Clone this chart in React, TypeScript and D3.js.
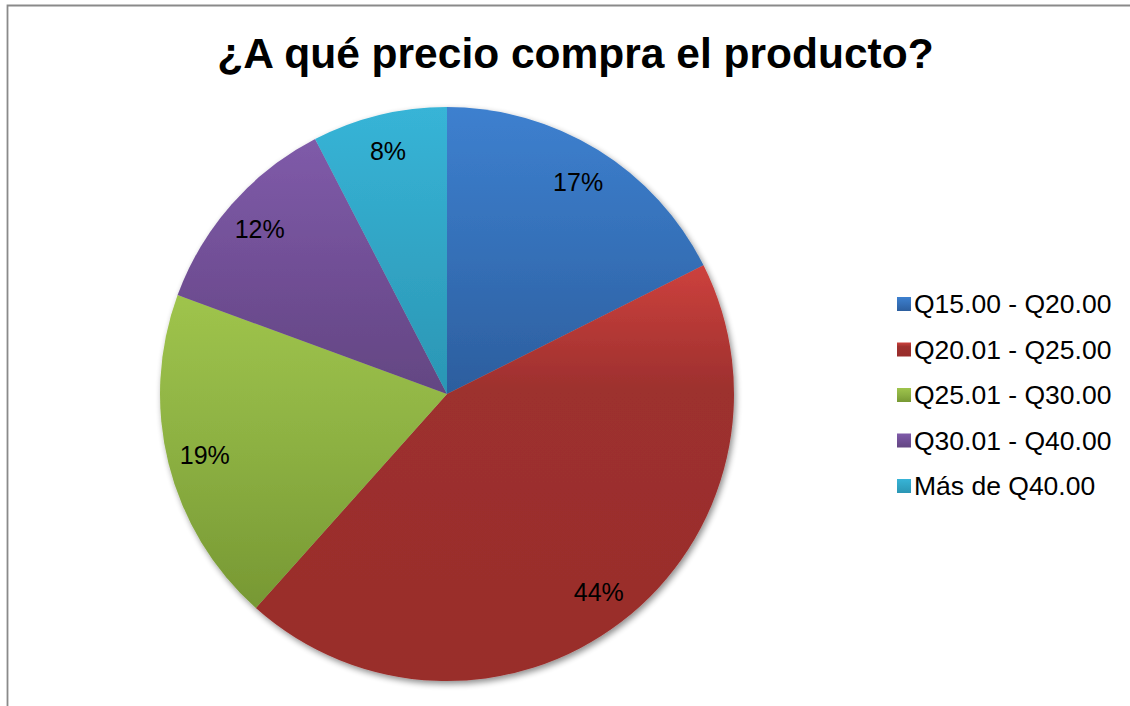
import React from "react";
import * as d3 from "d3";

const categories = ["Q15.00 - Q20.00", "Q20.01 - Q25.00", "Q25.01 - Q30.00", "Q30.01 - Q40.00", "Más de Q40.00"];
const values = [17.6, 44, 19, 11.8, 7.6];
const labels = ["17%", "44%", "19%", "12%", "8%"];
const topColors = ["#3d80cf", "#cd413d", "#9fc44c", "#7f5ba9", "#37b4d7"];
const midColors = ["#3570b8", "#9d302e", "#8cb042", "#714f96", "#31a5c5"];
const bottomColors = ["#2c5e9e", "#992d2b", "#779833", "#634682", "#2b96b4"];
const midStops = [0.5, 0.3, 0.5, 0.5, 0.5];
const title = "¿A qué precio compra el producto?";

export default function App() {
  const W = 1130, H = 706;
  const cx = 447, cy = 394, r = 287;
  const pie = d3.pie<number>().sort(null).value((d) => d);
  const arcs = pie(values);
  const arc = d3.arc<d3.PieArcDatum<number>>().innerRadius(0).outerRadius(r);
  const labelArc = d3.arc<d3.PieArcDatum<number>>().innerRadius(r * 0.87).outerRadius(r * 0.87);
  const font = "Arial, 'Liberation Sans', Helvetica, sans-serif";
  const legendY = d3.scalePoint<string>().domain(categories).range([304, 486]);

  return (
    <svg width={W} height={H} style={{ position: "absolute", left: 0, top: 0 }}>
      <defs>
        {arcs.map((a, i) => (
          <linearGradient key={i} id={`g${i}`} x1="0" y1="0" x2="0" y2="1">
            <stop offset="0" stopColor={topColors[i]} />
            <stop offset={midStops[i]} stopColor={midColors[i]} />
            <stop offset="1" stopColor={bottomColors[i]} />
          </linearGradient>
        ))}
        <filter id="sh" x="-10%" y="-10%" width="120%" height="120%">
          <feGaussianBlur in="SourceAlpha" stdDeviation="3" />
          <feOffset dx="2" dy="3" result="b" />
          <feComponentTransfer>
            <feFuncA type="linear" slope="0.45" />
          </feComponentTransfer>
          <feMerge>
            <feMergeNode />
            <feMergeNode in="SourceGraphic" />
          </feMerge>
        </filter>
      </defs>
      <rect x={0} y={0} width={W} height={H} fill="#ffffff" />
      <path d={`M7.5,${H} L7.5,5.5 L${W},5.5`} fill="none" stroke="#8a8a8a" strokeWidth={1.8} />
      <text x={575.5} y={53} textAnchor="middle" dominantBaseline="central" fontFamily={font} fontWeight="bold" fontSize={42.5} fill="#000">
        {title}
      </text>
      <g transform={`translate(${cx},${cy})`}>
        <g filter="url(#sh)">
          {arcs.map((a, i) => (
            <path key={i} d={arc(a) || ""} fill={`url(#g${i})`} />
          ))}
        </g>
        {arcs.map((a, i) => {
          const [x, y] = labelArc.centroid(a);
          return (
            <text key={i} x={x} y={y} textAnchor="middle" dominantBaseline="central" fontFamily={font} fontSize={25} fill="#000">
              {labels[i]}
            </text>
          );
        })}
      </g>
      {categories.map((c, i) => {
        const y = legendY(c) as number;
        return (
          <g key={c}>
            <rect x={897} y={y - 7} width={14} height={14} fill={`url(#g${i})`} />
            <text x={914} y={y} dominantBaseline="central" fontFamily={font} fontSize={26.5} fill="#000">
              {c}
            </text>
          </g>
        );
      })}
    </svg>
  );
}
